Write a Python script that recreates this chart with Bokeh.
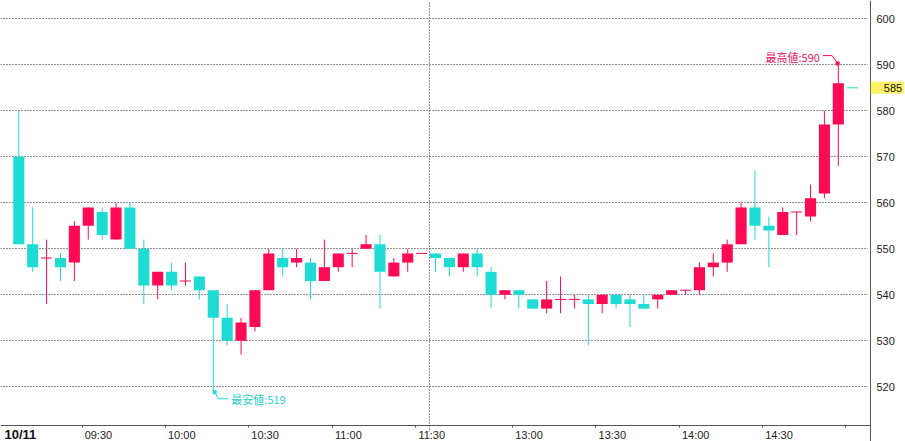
from bokeh.plotting import figure
from bokeh.models import Range1d, FixedTicker, Label, BoxAnnotation
from bokeh.embed import file_html
from bokeh.resources import INLINE
from bokeh.core.properties import value

# 5-minute candles (slot index 0..60), 10/11
opens  = [570, 551, 548, 548, 547, 555, 558, 552, 559, 550, 542, 545, 543, 544, 541, 535, 530, 533, 541, 548,
          547, 547, 543, 546, 549, 550, 551, 544, 547, 549, 549, 548, 546, 549, 545, 540, 541, 539, 537, 539,
          539, 539, 538, 540, 539, 538, 539, 540, 541, 541, 546, 547, 551, 559, 555, 553, 558, 557, 562, 577, 585]
highs  = [580, 559, 552, 549, 556, 559, 559, 560, 560, 552, 545, 547, 547, 544, 541, 538, 535, 541, 550, 550,
          550, 548, 552, 549, 550, 553, 553, 548, 550, 549, 549, 548, 549, 550, 546, 541, 541, 539, 543, 544,
          540, 540, 540, 540, 540, 540, 540, 541, 541, 547, 549, 552, 560, 567, 557, 559, 558, 564, 580, 590, 585]
lows   = [551, 545, 538, 543, 543, 552, 552, 552, 550, 538, 539, 541, 542, 539, 519, 529, 527, 532, 541, 544,
          546, 539, 543, 545, 546, 550, 537, 544, 545, 549, 545, 544, 545, 544, 537, 539, 537, 537, 536, 536,
          537, 529, 536, 537, 533, 537, 537, 540, 540, 540, 544, 545, 551, 552, 546, 553, 553, 556, 561, 568, 585]
closes = [551, 546, 548, 546, 555, 559, 553, 559, 550, 542, 545, 542, 543, 541, 535, 530, 534, 541, 549, 546,
          548, 543, 546, 549, 549, 551, 545, 547, 549, 549, 548, 546, 549, 546, 540, 541, 540, 537, 539, 539,
          539, 538, 540, 538, 538, 537, 540, 541, 541, 546, 547, 551, 559, 555, 554, 558, 558, 561, 577, 586, 585]

tick_slots  = [5, 11, 17, 23, 29, 36, 42, 48, 54, 60]
tick_labels = ["09:30", "10:00", "10:30", "11:00", "11:30", "13:00", "13:30", "14:00", "14:30", ""]
y_ticks = [520, 530, 540, 550, 560, 570, 580, 590, 600]
date_label = "10/11"
last_price = 585

UP = "#ff0a55"
DOWN = "#1edcd4"
FONT = "Liberation Sans"
JFONT = "Noto Sans CJK JP"
GRID = "#222222"
AXIS = "#555555"

n = len(opens)
xs = list(range(n))
colors = []
for i in range(n):
    if closes[i] > opens[i]:
        colors.append(UP)
    elif closes[i] < opens[i]:
        colors.append(DOWN)
    else:
        prev = closes[i - 1] if i > 0 else closes[i]
        colors.append(UP if closes[i] >= prev else DOWN)

tops = [max(o, c) for o, c in zip(opens, closes)]
bots = [min(o, c) for o, c in zip(opens, closes)]

# scales: 13.89 px per slot, 4.6 px per yen; frame spans the whole canvas,
# axes are pinned at the plot-area edges (x = 870 px, y = 425 px)
W, H = 905, 441
PX_X, PX_Y = 13.89, 4.6
x0 = -1.318
y_top = 603.98
x_end = x0 + W / PX_X
y_bot = y_top - H / PX_Y
x_axis_at = x0 + 870 / PX_X          # right price axis
y_axis_at = y_top - 425 / PX_Y       # bottom time axis

p = figure(frame_width=W, frame_height=H, output_backend="svg", toolbar_location=None,
           x_range=Range1d(x0, x_end), y_range=Range1d(y_bot, y_top),
           y_axis_location="right", x_axis_location="below",
           min_border=0, min_border_left=0, min_border_right=0, min_border_top=0, min_border_bottom=0)
p.outline_line_color = None
p.background_fill_color = "white"
p.border_fill_color = "white"

# grids
p.xgrid.ticker = FixedTicker(ticks=[29.6])
p.xgrid.grid_line_color = GRID
p.xgrid.grid_line_dash = "1 2"
p.ygrid.ticker = FixedTicker(ticks=y_ticks)
p.ygrid.grid_line_color = GRID
p.ygrid.grid_line_dash = "1 2"
# keep grid lines inside the plot area
p.add_layout(BoxAnnotation(left=x_axis_at - 0.2, level="underlay", fill_color="white", fill_alpha=1,
                           line_color=None))
p.add_layout(BoxAnnotation(top=y_top - 431 / PX_Y, level="underlay", fill_color="white", fill_alpha=1,
                           line_color=None))

# wicks (skip flat candles)
wx = [x for x in xs if highs[x] != lows[x]]
p.segment(x0=wx, x1=wx, y0=[lows[x] for x in wx], y1=[highs[x] for x in wx],
          line_color=[colors[x] for x in wx], line_width=1)
# bodies
bx = [x for x in xs if tops[x] != bots[x]]
p.vbar(x=bx, width=0.8, top=[tops[x] for x in bx], bottom=[bots[x] for x in bx],
       fill_color=[colors[x] for x in bx], line_color=None)
# doji bars
dx = [x for x in xs if tops[x] == bots[x]]
p.segment(x0=[x - 0.4 for x in dx], x1=[x + 0.4 for x in dx], y0=[closes[x] for x in dx],
          y1=[closes[x] for x in dx], line_color=[colors[x] for x in dx], line_width=1)

# y axis (right)
ya = p.yaxis[0]
ya.fixed_location = x_axis_at
ya.ticker = FixedTicker(ticks=y_ticks)
ya.major_tick_out = 0
ya.major_tick_in = 0
ya.minor_tick_out = 0
ya.minor_tick_in = 0
ya.axis_line_color = AXIS
ya.major_label_standoff = 6
ya.major_label_text_font = FONT
ya.major_label_text_font_size = "11px"
ya.major_label_text_color = "#222222"

# x axis: labels just right of the time marks (major ticks hidden, minor ticks = time marks)
tick_pos = [s - 0.45 for s in tick_slots]
label_pos = [t + 1.18 for t in tick_pos]
xa = p.xaxis[0]
xa.fixed_location = y_axis_at
xa.bounds = (x0, x_axis_at)
xa.ticker = FixedTicker(ticks=label_pos, minor_ticks=tick_pos)
xa.major_label_overrides = {t: l for t, l in zip(label_pos, tick_labels)}
xa.major_tick_line_color = None
xa.major_tick_out = 2
xa.major_tick_in = 0
xa.minor_tick_out = 2
xa.minor_tick_in = 0
xa.minor_tick_line_color = AXIS
xa.axis_line_color = AXIS
xa.major_label_standoff = 1
xa.major_label_text_font = FONT
xa.major_label_text_font_size = "11px"
xa.major_label_text_color = "#222222"

# high / low markers
imax = max(range(n), key=lambda i: highs[i])
imin = min(range(n), key=lambda i: lows[i])
hv, lv = highs[imax], lows[imin]
p.line(x=[imax - 1.1, imax - 0.45, imax - 0.05], y=[hv + 2.0, hv + 2.0, hv + 0.3], line_color=UP, line_width=1)
p.scatter(x=[imax - 0.05], y=[hv + 0.3], marker="square", size=3, color=UP)
p.text(x=[imax - 1.33], y=[hv + 1.65], text=["最高値:%d" % hv], text_align="right", text_baseline="middle",
       text_font=value(JFONT), text_font_size="11px", text_color="#e8165f")
p.line(x=[imin + 0.1, imin + 0.37, imin + 1.1], y=[lv - 0.2, lv - 1.6, lv - 1.6], line_color=DOWN, line_width=1)
p.scatter(x=[imin + 0.1], y=[lv - 0.2], marker="square", size=3, color=DOWN)
p.text(x=[imin + 1.3], y=[lv - 1.57], text=["最安値:%d" % lv], text_align="left", text_baseline="middle",
       text_font=value(JFONT), text_font_size="11px", text_color="#2ccfd0")

# date label in the time-axis band
p.add_layout(Label(x=x0 + 4 / PX_X, y=y_top - 433.5 / PX_Y, text=date_label, text_align="left",
                   text_baseline="middle", text_font=FONT, text_font_size="13px", text_font_style="bold",
                   text_color="#111111"))

# last price tag on the price axis (box starts at the axis line)
p.add_layout(Label(x=x_axis_at + 0.02, y=last_price, text=str(last_price), text_align="left",
                   text_baseline="middle", text_font=FONT, text_font_size="11px", text_color="#111111",
                   background_fill_color="#fff266",
                   padding=dict(left=13, right=2, top=2, bottom=2)))

open("out.html", "w").write(file_html(p, INLINE))
